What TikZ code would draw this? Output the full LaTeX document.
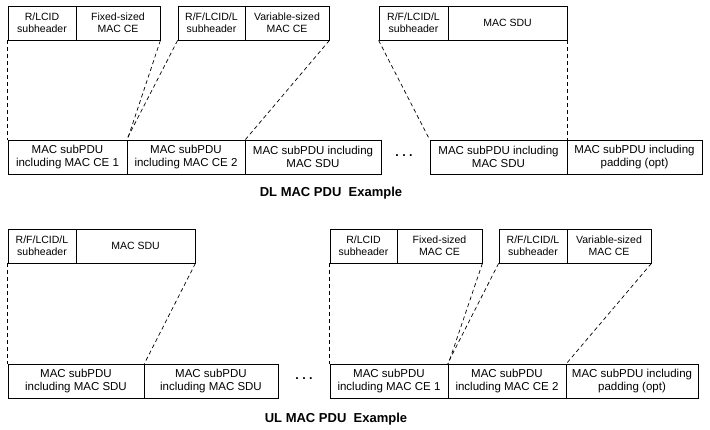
\documentclass[tikz,border=0pt]{standalone}
\usepackage{fontspec}
\setmainfont{Liberation Sans}
\tikzset{
  cell/.style={draw, line width=0.8pt, inner sep=0pt, minimum height=34pt,
    align=center, font=\fontsize{11.5}{13}\selectfont},
  hcell/.style={cell, font=\fontsize{10.5}{12}\selectfont},
  link/.style={draw, line width=0.7pt, dash pattern=on 4pt off 3pt},
  gap/.style={font=\fontsize{12.5}{13}\selectfont\bfseries},
  caption/.style={font=\fontsize{13}{15}\selectfont\bfseries}
}
\begin{document}
\begin{tikzpicture}[x=1pt, y=-1pt]
  \useasboundingbox (0,0) rectangle (710,429);
  % DL MAC PDU
  \path (42,23) node[hcell, minimum width=68pt] (dlsh1) {R/LCID\\subheader};
  \path (118,23) node[hcell, minimum width=84pt] (dlce1) {Fixed-sized\\MAC CE};
  \path (211.5,23) node[hcell, minimum width=67pt] (dlsh2) {R/F/LCID/L\\subheader};
  \path (287,23) node[hcell, minimum width=84pt] (dlce2) {Variable-sized\\MAC CE};
  \path (413.5,23) node[hcell, minimum width=69pt] (dlsh3) {R/F/LCID/L\\subheader};
  \path (507.5,23) node[hcell, minimum width=119pt] (dlsdu) {MAC SDU};
  \path (67.5,157) node[cell, minimum width=119pt] (dlpdu1) {MAC subPDU\\including MAC CE 1};
  \path (186,157) node[cell, minimum width=118pt] (dlpdu2) {MAC subPDU\\including MAC CE 2};
  \path (313,157) node[cell, minimum width=136pt] (dlpdu3) {MAC subPDU including\\MAC SDU};
  \path (404,156) node[gap] (dldots) {.\ .\ .};
  \path (498.5,157) node[cell, minimum width=137pt] (dlpdu4) {MAC subPDU including\\MAC SDU};
  \path (634.5,157) node[cell, minimum width=135pt] (dlpdu5) {MAC subPDU including\\padding (opt)};
  \draw[link] (dlsh1.south west) -- (dlpdu1.north west);
  \draw[link] (dlce1.south east) -- (dlpdu1.north east);
  \draw[link] (dlsh2.south west) -- (dlpdu2.north west);
  \draw[link] (dlce2.south east) -- (dlpdu2.north east);
  \draw[link] (dlsh3.south west) -- (dlpdu4.north west);
  \draw[link] (dlsdu.south east) -- (dlpdu4.north east);
  \path (331,193) node[caption] (dltitle) {DL MAC PDU\ \ Example};
  % UL MAC PDU
  \path (42,246) node[hcell, minimum width=68pt] (ulsh1) {R/F/LCID/L\\subheader};
  \path (135.5,246) node[hcell, minimum width=119pt] (ulsdu) {MAC SDU};
  \path (76,381) node[cell, minimum width=136pt] (ulpdu1) {MAC subPDU\\including MAC SDU};
  \path (211,381) node[cell, minimum width=134pt] (ulpdu2) {MAC subPDU\\including MAC SDU};
  \path (304,379) node[gap] (uldots) {.\ .\ .};
  \path (363.5,246) node[hcell, minimum width=67pt] (ulsh2) {R/LCID\\subheader};
  \path (439.5,246) node[hcell, minimum width=85pt] (ulce1) {Fixed-sized\\MAC CE};
  \path (533,246) node[hcell, minimum width=68pt] (ulsh3) {R/F/LCID/L\\subheader};
  \path (609,246) node[hcell, minimum width=84pt] (ulce2) {Variable-sized\\MAC CE};
  \path (389,381) node[cell, minimum width=118pt] (ulpdu3) {MAC subPDU\\including MAC CE 1};
  \path (507,381) node[cell, minimum width=118pt] (ulpdu4) {MAC subPDU\\including MAC CE 2};
  \path (632,381) node[cell, minimum width=132pt] (ulpdu5) {MAC subPDU including\\padding (opt)};
  \draw[link] (ulsh1.south west) -- (ulpdu1.north west);
  \draw[link] (ulsdu.south east) -- (ulpdu1.north east);
  \draw[link] (ulsh2.south west) -- (ulpdu3.north west);
  \draw[link] (ulce1.south east) -- (ulpdu3.north east);
  \draw[link] (ulsh3.south west) -- (ulpdu4.north west);
  \draw[link] (ulce2.south east) -- (ulpdu4.north east);
  \path (336,419) node[caption] (ultitle) {UL MAC PDU\ \ Example};
\end{tikzpicture}
\end{document}
